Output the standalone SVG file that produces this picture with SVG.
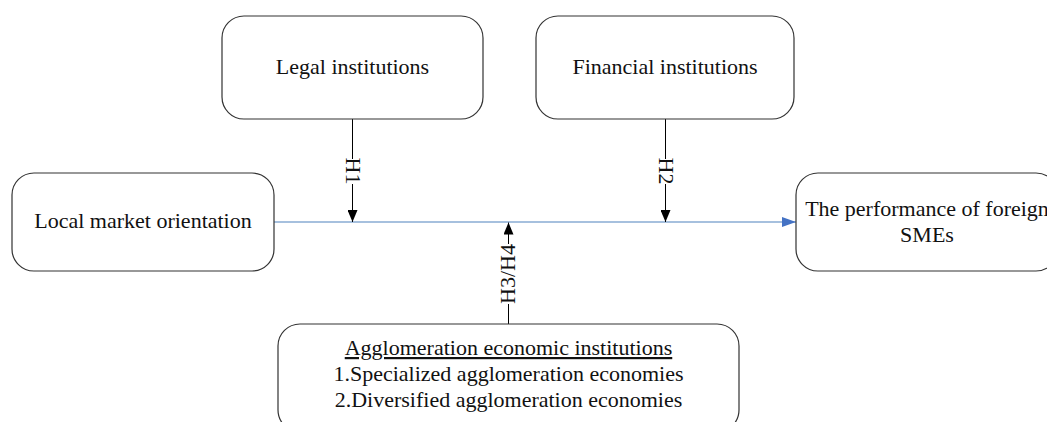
<svg xmlns="http://www.w3.org/2000/svg" width="1047" height="422" viewBox="0 0 1047 422">
  <style>
    .box { fill: #ffffff; stroke: #333333; stroke-width: 1.2; }
    .t { font-family: "Liberation Serif", "Times New Roman", serif; font-size: 22px; fill: #111111; text-anchor: middle; }
    .conn { stroke: #000000; stroke-width: 1; fill: none; }
    .main { stroke: #4f81bd; stroke-width: 1.2; fill: none; }
    .bg { fill: #ffffff; }
  </style>
  <defs>
    <marker id="arrBlack" viewBox="0 0 12 10" refX="12" refY="5" markerWidth="12" markerHeight="10" markerUnits="userSpaceOnUse" orient="auto">
      <path d="M0,0 L12,5 L0,10 Z" fill="#000000"/>
    </marker>
    <marker id="arrBlue" viewBox="0 0 14 10" refX="14" refY="5" markerWidth="14" markerHeight="10" markerUnits="userSpaceOnUse" orient="auto">
      <path d="M0,0 L14,5 L0,10 Z" fill="#4472c4"/>
    </marker>
  </defs>

  <g id="connectors">
    <line class="main" x1="274" y1="222" x2="796" y2="222" marker-end="url(#arrBlue)"/>
    <line class="conn" x1="352.5" y1="119" x2="352.5" y2="222" marker-end="url(#arrBlack)"/>
    <line class="conn" x1="665.5" y1="119" x2="665.5" y2="222" marker-end="url(#arrBlack)"/>
    <line class="conn" x1="508.5" y1="324" x2="508.5" y2="222.5" marker-end="url(#arrBlack)"/>
    <rect class="bg" x="344" y="159" width="18" height="25"/>
    <text class="t" transform="translate(346,171) rotate(90)" x="0" y="0">H1</text>
    <rect class="bg" x="657" y="159" width="18" height="25"/>
    <text class="t" transform="translate(659,171) rotate(90)" x="0" y="0">H2</text>
    <rect class="bg" x="499" y="244" width="19" height="60"/>
    <text class="t" transform="translate(515,274) rotate(-90)" x="0" y="0">H3/H4</text>
  </g>

  <g id="node-legal">
    <rect class="box" x="222" y="16" width="261" height="103" rx="22" ry="22"/>
    <text class="t" x="352.5" y="74">Legal institutions</text>
  </g>

  <g id="node-financial">
    <rect class="box" x="536" y="16" width="258" height="103" rx="22" ry="22"/>
    <text class="t" x="665" y="74">Financial institutions</text>
  </g>

  <g id="node-local">
    <rect class="box" x="12" y="173" width="262" height="98" rx="22" ry="22"/>
    <text class="t" x="143" y="228">Local market orientation</text>
  </g>

  <g id="node-performance">
    <rect class="box" x="796" y="173" width="262" height="98" rx="22" ry="22"/>
    <text class="t" x="927" y="216">The performance of foreign</text>
    <text class="t" x="927" y="242">SMEs</text>
  </g>

  <g id="node-agglomeration">
    <rect class="box" x="278" y="324" width="461" height="108" rx="22" ry="22"/>
    <text class="t" x="508.5" y="355" text-decoration="underline">Agglomeration economic institutions</text>
    <text class="t" x="508.5" y="381">1.Specialized agglomeration economies</text>
    <text class="t" x="508.5" y="407">2.Diversified agglomeration economies</text>
  </g>
</svg>
